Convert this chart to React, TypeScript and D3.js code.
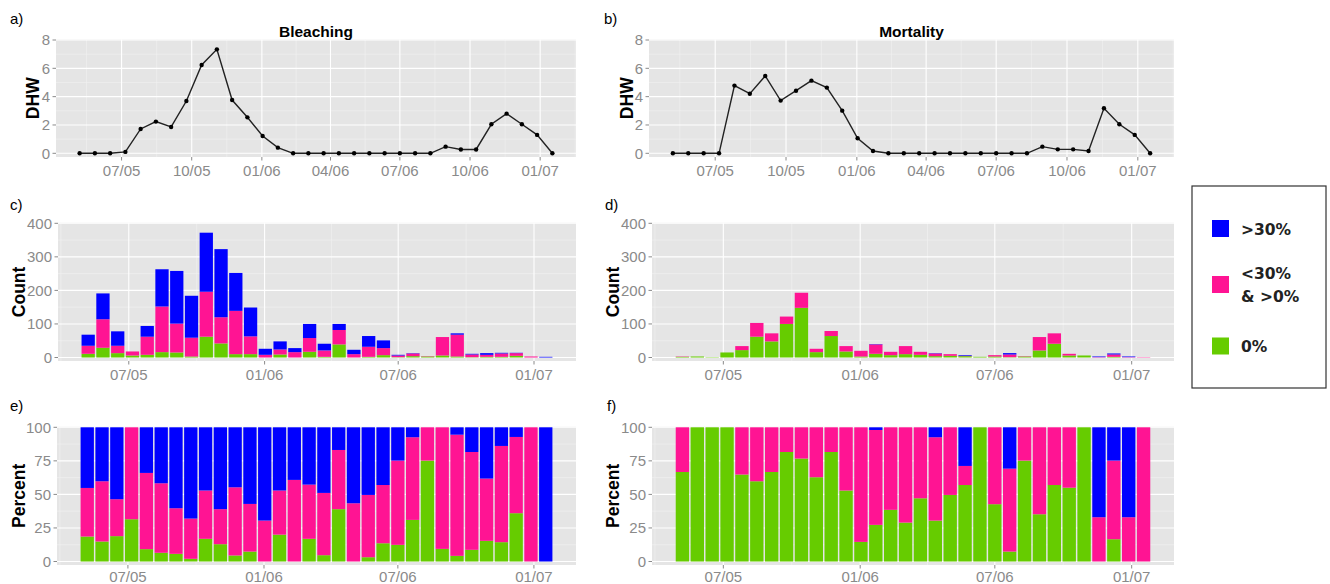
import React, { useRef, useEffect } from "react";
import * as d3 from "d3";

// survey dates (one every ~20 days)
const surveyDates = [
  "2005-05-07", "2005-05-27", "2005-06-16", "2005-07-06", "2005-07-26", "2005-08-15",
  "2005-09-04", "2005-09-24", "2005-10-14", "2005-11-03", "2005-11-23", "2005-12-13",
  "2006-01-02", "2006-01-22", "2006-02-11", "2006-03-03", "2006-03-23", "2006-04-12",
  "2006-05-02", "2006-05-22", "2006-06-11", "2006-07-01", "2006-07-21", "2006-08-10",
  "2006-08-30", "2006-09-19", "2006-10-09", "2006-10-29", "2006-11-18", "2006-12-08",
  "2006-12-28", "2007-01-17",
];

// degree heating weeks
const dhwBleaching = [0, 0, 0, 0.1, 1.72, 2.24, 1.86, 3.69, 6.24, 7.34, 3.76, 2.54, 1.22, 0.4,
  0, 0, 0, 0, 0, 0, 0, 0, 0, 0, 0.47, 0.27, 0.27, 2.05, 2.8, 2.05, 1.3, 0];
const dhwMortality = [0, 0, 0, 0, 4.78, 4.21, 5.46, 3.72, 4.42, 5.13, 4.64, 3.01, 1.06, 0.16,
  0, 0, 0, 0, 0, 0, 0, 0, 0, 0, 0.47, 0.28, 0.28, 0.16, 3.18, 2.05, 1.3, 0];

// counts per class : 0%, <30% & >0%, >30%
const bleachNone = [11, 29, 13, 6, 8, 16, 15, 3, 62, 42, 10, 10, 0, 9, 0, 17, 2, 39, 0, 2, 7, 1, 4, 3, 6, 3, 1, 2, 2, 5, 0, 0];
const bleachLow = [24, 85, 22, 12, 54, 136, 86, 56, 134, 78, 129, 53, 8, 15, 16, 41, 19, 43, 10, 30, 21, 5, 8, 1, 55, 65, 8, 6, 10, 8, 3, 0];
const bleachHigh = [33, 77, 43, 0, 32, 111, 157, 125, 176, 203, 113, 86, 18, 24, 12, 42, 20, 18, 13, 32, 23, 2, 1, 0, 0, 4, 2, 5, 2, 1, 0, 2];

const mortNone = [2, 3, 1, 15, 22, 62, 48, 100, 148, 16, 64, 18, 3, 11, 7, 10, 8, 4, 5, 4, 2, 3, 1, 3, 21, 41, 6, 6, 0, 2, 0, 0];
const mortLow = [1, 0, 0, 0, 12, 41, 24, 22, 45, 10, 15, 16, 17, 28, 10, 24, 9, 8, 5, 1, 0, 4, 8, 1, 40, 31, 5, 0, 1, 7, 1, 1];
const mortHigh = [0, 0, 0, 0, 0, 0, 0, 0, 0, 0, 0, 0, 0, 1, 0, 0, 0, 1, 0, 2, 0, 0, 4, 0, 0, 0, 0, 0, 2, 3, 2, 0];

// percentages per class
const bleachPctNone = [18.6, 14.9, 18.9, 31.5, 9.2, 6.5, 5.7, 2, 16.9, 12.9, 4.5, 7.4, 0, 20, 0, 16.9, 4.7, 39, 0, 3.2, 13.6, 12.4, 31, 75.2, 9.4, 4.2, 8.7, 15.4, 14.4, 36, 0, 0];
const bleachPctLow = [36.2, 44.9, 27.5, 68.5, 56.8, 51.8, 34, 30, 36, 26.1, 50.8, 35.5, 30.5, 32.9, 60.8, 40.4, 46.4, 44.1, 43.4, 46.4, 43.4, 62.8, 61.6, 24.8, 90.6, 90.3, 72.9, 46.4, 71.7, 56.8, 100, 0];
const bleachPctHigh = [45.2, 40.2, 53.6, 0, 34, 41.7, 60.3, 68, 47.1, 61, 44.7, 57.1, 69.5, 47.1, 39.2, 42.7, 48.9, 16.9, 56.6, 50.4, 43, 24.8, 7.4, 0, 0, 5.5, 18.4, 38.2, 13.9, 7.2, 0, 100];

const mortPctNone = [66.7, 100, 100, 100, 64.8, 59.8, 66.7, 81.6, 76.7, 62.8, 81.6, 52.9, 14.6, 27.3, 38.5, 29, 47.1, 30.5, 49.6, 57, 100, 42.7, 7.4, 75.2, 35.2, 57, 55, 100, 0, 16.6, 0, 0];
const mortPctLow = [33.3, 0, 0, 0, 35.2, 40.2, 33.3, 18.4, 23.3, 37.2, 18.4, 47.1, 85.4, 70.7, 61.5, 71, 52.9, 62.1, 50.4, 14.2, 0, 57.3, 61.8, 24.8, 64.8, 43, 45, 0, 33, 58.6, 33, 100];
const mortPctHigh = [0, 0, 0, 0, 0, 0, 0, 0, 0, 0, 0, 0, 0, 2, 0, 0, 0, 7.4, 0, 28.8, 0, 0, 30.8, 0, 0, 0, 0, 0, 67, 24.8, 67, 0];

// axis ticks
const lineTicks = ["2005-07-01", "2005-10-01", "2006-01-01", "2006-04-01", "2006-07-01", "2006-10-01", "2007-01-01"];
const barTicks = ["2005-07-01", "2006-01-01", "2006-07-01", "2007-01-01"];
const dhwTicks = [0, 2, 4, 6, 8];
const countTicks = [0, 100, 200, 300, 400];
const pctTicks = [0, 25, 50, 75, 100];

const classKeys = ["none", "low", "high"];
const classColors = { none: "#66cc00", low: "#ff1493", high: "#0000ff" };
const legendItems = [
  { key: "high", lines: [">30%"] },
  { key: "low", lines: ["<30%", "& >0%"] },
  { key: "none", lines: ["0%"] },
];

const FONT = "'Liberation Sans', Arial, Helvetica, sans-serif";
const TICK_COL = "#8a8a8a";
const DAY = 864e5;

const parse = d3.timeParse("%Y-%m-%d");
const fmt = d3.timeFormat("%m/%y");

function drawFrame(g, box, x, y, xTicks, yTicks, yTitle, yTitleX) {
  const { left, right, top, bottom } = box;
  g.append("rect")
    .attr("x", left).attr("y", top)
    .attr("width", right - left).attr("height", bottom - top)
    .attr("fill", "#e5e5e5");

  // minor grid (midpoints between breaks)
  const [d0, d1] = x.domain();
  const step = xTicks[1] - xTicks[0];
  const allX = [new Date(+xTicks[0] - step), ...xTicks, new Date(+xTicks[xTicks.length - 1] + step)];
  const minorX = d3.pairs(allX).map(([a, b]) => new Date((+a + +b) / 2)).filter((d) => d >= d0 && d <= d1);
  const yStep = yTicks[1] - yTicks[0];
  const minorY = yTicks.map((v) => v + yStep / 2).filter((v) => v < yTicks[yTicks.length - 1]);

  const grid = g.append("g");
  grid.selectAll(".mx").data(minorX).join("line")
    .attr("x1", (d) => x(d)).attr("x2", (d) => x(d))
    .attr("y1", top).attr("y2", bottom)
    .attr("stroke", "#f2f2f2").attr("stroke-width", 0.6);
  grid.selectAll(".my").data(minorY).join("line")
    .attr("x1", left).attr("x2", right)
    .attr("y1", (d) => y(d)).attr("y2", (d) => y(d))
    .attr("stroke", "#f2f2f2").attr("stroke-width", 0.6);
  grid.selectAll(".gx").data(xTicks).join("line")
    .attr("x1", (d) => x(d)).attr("x2", (d) => x(d))
    .attr("y1", top).attr("y2", bottom)
    .attr("stroke", "#ffffff").attr("stroke-width", 1.1);
  grid.selectAll(".gy").data(yTicks).join("line")
    .attr("x1", left).attr("x2", right)
    .attr("y1", (d) => y(d)).attr("y2", (d) => y(d))
    .attr("stroke", "#ffffff").attr("stroke-width", 1.1);

  // axes
  const labelY = Math.min(bottom + 19, 582);
  const ax = g.append("g");
  ax.selectAll(".tx").data(xTicks).join("line")
    .attr("x1", (d) => x(d)).attr("x2", (d) => x(d))
    .attr("y1", bottom).attr("y2", bottom + 3.5)
    .attr("stroke", TICK_COL).attr("stroke-width", 1);
  ax.selectAll(".lx").data(xTicks).join("text")
    .attr("x", (d) => x(d)).attr("y", labelY)
    .attr("text-anchor", "middle")
    .attr("font-family", FONT).attr("font-size", 15).attr("fill", TICK_COL)
    .text((d) => fmt(d));
  ax.selectAll(".ty").data(yTicks).join("line")
    .attr("x1", left - 3.5).attr("x2", left)
    .attr("y1", (d) => y(d)).attr("y2", (d) => y(d))
    .attr("stroke", TICK_COL).attr("stroke-width", 1);
  ax.selectAll(".ly").data(yTicks).join("text")
    .attr("x", left - 6).attr("y", (d) => y(d) + 5.3)
    .attr("text-anchor", "end")
    .attr("font-family", FONT).attr("font-size", 15).attr("fill", TICK_COL)
    .text((d) => d);

  g.append("text")
    .attr("transform", `translate(${yTitleX},${(top + bottom) / 2}) rotate(-90)`)
    .attr("text-anchor", "middle")
    .attr("dy", "0.35em")
    .attr("font-family", FONT).attr("font-size", 17.5).attr("font-weight", "bold")
    .attr("fill", "#000")
    .text(yTitle);
}

function drawLinePanel(svg, box, values, yTitleX, title) {
  const g = svg.append("g");
  const dates = surveyDates.map(parse);
  const lo = +dates[0], hi = +dates[dates.length - 1];
  const pad = (hi - lo) * 0.05;
  const x = d3.scaleTime().domain([new Date(lo - pad), new Date(hi + pad)]).range([box.left, box.right]);
  const y = d3.scaleLinear().domain([0, 8]).range([box.bottom - 3.7, box.top + 0.5]);

  drawFrame(g, box, x, y, lineTicks.map(parse), dhwTicks, "DHW", yTitleX);

  const pts = dates.map((d, i) => ({ d, v: values[i] }));
  const line = d3.line().x((p) => x(p.d)).y((p) => y(p.v));
  g.append("path").datum(pts)
    .attr("fill", "none").attr("stroke", "#222").attr("stroke-width", 1.4)
    .attr("d", line);
  g.selectAll(".pt").data(pts).join("circle")
    .attr("cx", (p) => x(p.d)).attr("cy", (p) => y(p.v)).attr("r", 2.2)
    .attr("fill", "#000");

  g.append("text")
    .attr("x", (box.left + box.right) / 2).attr("y", box.top - 3)
    .attr("text-anchor", "middle")
    .attr("font-family", FONT).attr("font-size", 15.5).attr("font-weight", "bold")
    .text(title);
}

function drawBarPanel(svg, box, none, low, high, yMax, yTicks, yTitle, yTitleX) {
  const g = svg.append("g");
  const dates = surveyDates.map(parse);
  const half = 9 * DAY; // bar width 0.9 of the 20 day step
  const lo = +dates[0] - half, hi = +dates[dates.length - 1] + half;
  const pad = (hi - lo) * 0.05;
  const x = d3.scaleTime().domain([new Date(lo - pad), new Date(hi + pad)]).range([box.left, box.right]);
  const y = d3.scaleLinear().domain([0, yMax]).range([box.bottom - 3.5, box.top + 0.5]);

  drawFrame(g, box, x, y, barTicks.map(parse), yTicks, yTitle, yTitleX);

  const rows = dates.map((d, i) => ({ d, none: none[i], low: low[i], high: high[i] }));
  const series = d3.stack().keys(classKeys)(rows);
  g.selectAll(".layer").data(series).join("g")
    .attr("fill", (s) => classColors[s.key])
    .selectAll("rect").data((s) => s).join("rect")
    .attr("x", (s) => x(new Date(+s.data.d - half)))
    .attr("width", (s) => x(new Date(+s.data.d + half)) - x(new Date(+s.data.d - half)))
    .attr("y", (s) => y(s[1]))
    .attr("height", (s) => Math.max(0, y(s[0]) - y(s[1])));
}

function drawLegend(svg) {
  const g = svg.append("g");
  g.append("rect")
    .attr("x", 1192).attr("y", 186).attr("width", 134).attr("height", 202)
    .attr("fill", "#fff").attr("stroke", "#333").attr("stroke-width", 1.2);
  const rows = [228.5, 284.5, 346];
  legendItems.forEach((it, i) => {
    g.append("rect")
      .attr("x", 1212).attr("y", rows[i] - 8.5).attr("width", 17).attr("height", 17)
      .attr("fill", classColors[it.key]);
    it.lines.forEach((t, j) => {
      g.append("text")
        .attr("x", 1241).attr("y", rows[i] + 6 + (j - (it.lines.length - 1) / 2) * 23)
        .attr("font-family", "'DejaVu Sans', sans-serif").attr("font-size", 15.5)
        .attr("font-weight", "bold").attr("fill", "#222")
        .text(t);
    });
  });
}

const App = () => {
  const svgRef = useRef(null);

  useEffect(() => {
    const svg = d3.select(svgRef.current);
    svg.selectAll("*").remove();

    drawLinePanel(svg, { left: 56, right: 576, top: 39.5, bottom: 157 }, dhwBleaching, 33, "Bleaching");
    drawLinePanel(svg, { left: 649, right: 1174, top: 39.5, bottom: 157 }, dhwMortality, 627, "Mortality");

    drawBarPanel(svg, { left: 58, right: 576, top: 222.8, bottom: 361 }, bleachNone, bleachLow, bleachHigh, 400, countTicks, "Count", 19);
    drawBarPanel(svg, { left: 652, right: 1174, top: 222.8, bottom: 361 }, mortNone, mortLow, mortHigh, 400, countTicks, "Count", 613);

    drawBarPanel(svg, { left: 57, right: 576, top: 426.8, bottom: 565 }, bleachPctNone, bleachPctLow, bleachPctHigh, 100, pctTicks, "Percent", 19);
    drawBarPanel(svg, { left: 652, right: 1174, top: 426.8, bottom: 565 }, mortPctNone, mortPctLow, mortPctHigh, 100, pctTicks, "Percent", 613);

    const tags = [["a)", 10, 24], ["b)", 604, 24], ["c)", 10, 210], ["d)", 605, 210], ["e)", 10, 411], ["f)", 607, 411]];
    svg.selectAll(".tag").data(tags).join("text")
      .attr("x", (t) => t[1]).attr("y", (t) => t[2])
      .attr("font-family", FONT).attr("font-size", 15).attr("fill", "#000")
      .text((t) => t[0]);

    drawLegend(svg);
  }, []);

  return (
    <svg ref={svgRef} width={1330} height={584}
      style={{ position: "absolute", left: 0, top: 0, background: "#fff" }} />
  );
};

export default App;
